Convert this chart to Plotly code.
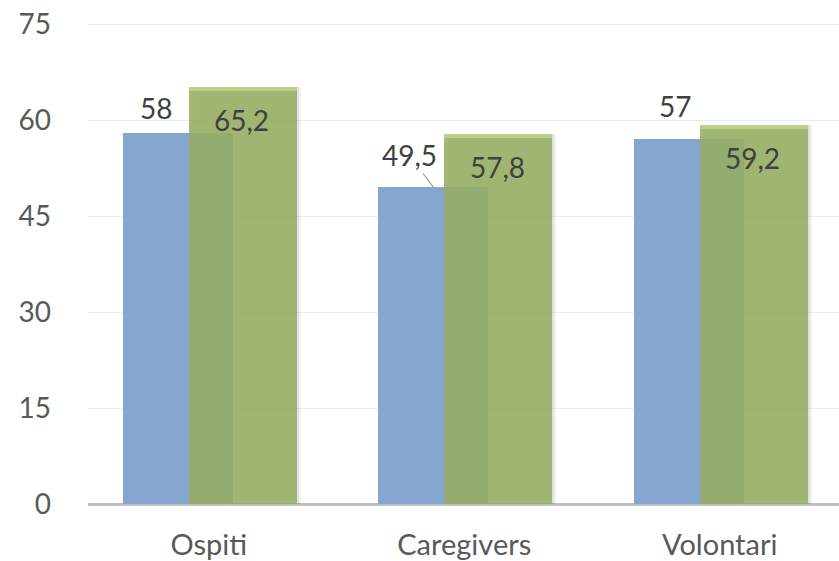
import plotly.graph_objects as go

categories = ["Ospiti", "Caregivers", "Volontari"]
series_blue = [58, 49.5, 57]
series_green = [65.2, 57.8, 59.2]
blue_labels = ["58", "49,5", "57"]
green_labels = ["65,2", "57,8", "59,2"]
y_ticks = [0, 15, 30, 45, 60, 75]

# styling (not data)
BLUE = "#84A6CF"
GREEN = "rgba(150,174,96,0.86)"
HILITE = "rgba(190,212,140,0.9)"
FONT = "Lato"
blue_off, blue_w = -0.336, 0.43
green_off, green_w = -0.078, 0.422
blue_label_shift = [(-22, -25), (-24, -32), (-14, -33)]
blue_leader = [False, True, False]

xs = list(range(len(categories)))
fig = go.Figure()

# soft shadow behind green bars
for k, a in [(4, 0.05), (2, 0.07)]:
    fig.add_trace(go.Bar(
        x=xs, y=series_green, offset=green_off + k / 255.5, width=green_w,
        marker=dict(color=f"rgba(0,0,0,{a})", line=dict(width=0)),
        hoverinfo="skip", showlegend=False))

fig.add_trace(go.Bar(
    x=xs, y=series_blue, offset=blue_off, width=blue_w,
    marker=dict(color=BLUE, line=dict(width=0)), name="blue", showlegend=False))
fig.add_trace(go.Bar(
    x=xs, y=series_green, offset=green_off, width=green_w,
    marker=dict(color=GREEN, line=dict(width=0)), name="green", showlegend=False))
# lighter top edge of green bars
fig.add_trace(go.Bar(
    x=xs, y=[0.6] * len(xs), base=[v - 0.6 for v in series_green],
    offset=green_off, width=green_w,
    marker=dict(color=HILITE, line=dict(width=0)), hoverinfo="skip", showlegend=False))

for i, (v, t) in enumerate(zip(series_blue, blue_labels)):
    ax, ay = blue_label_shift[i]
    fig.add_annotation(
        x=i + blue_off + blue_w / 2, y=v, text=t, showarrow=True,
        ax=ax, ay=ay, arrowhead=0, arrowwidth=1.3, standoff=0,
        arrowcolor="#A6A6A6" if blue_leader[i] else "rgba(0,0,0,0)",
        font=dict(family=FONT, size=28, color="#404040"))

for i, (v, t) in enumerate(zip(series_green, green_labels)):
    fig.add_annotation(
        x=i + green_off + green_w / 2, y=v, text=t, showarrow=False,
        yshift=-33, xshift=-1,
        font=dict(family=FONT, size=28, color="#404040"))

fig.update_layout(
    width=839, height=561,
    margin=dict(l=88, r=0, t=21, b=57, autoexpand=False),
    paper_bgcolor="white", plot_bgcolor="white",
    barmode="overlay", bargap=0,
    font=dict(family=FONT, color="#595959", size=28),
    showlegend=False,
)
fig.update_xaxes(
    range=[-0.4726, 2.467], tickvals=xs, ticktext=categories,
    showgrid=False, zeroline=False, showline=False, ticks="", automargin=False,
    ticklabelstandoff=21, tickfont=dict(family=FONT, size=29, color="#595959"))
fig.update_yaxes(
    range=[0, 75.47], tickvals=y_ticks, showgrid=True, gridcolor="#EBEBEB", gridwidth=1,
    zeroline=True, zerolinecolor="#BFBFBF", zerolinewidth=2.5, showline=False,
    ticks="", automargin=False, ticklabeloverflow="allow",
    ticklabelstandoff=36, tickfont=dict(family=FONT, size=28, color="#595959"))

# remove the default 8px page margin so the figure fills the window exactly
fig.write_html("out.html", config={"displayModeBar": False},
               post_script="document.body.style.margin='0';")
